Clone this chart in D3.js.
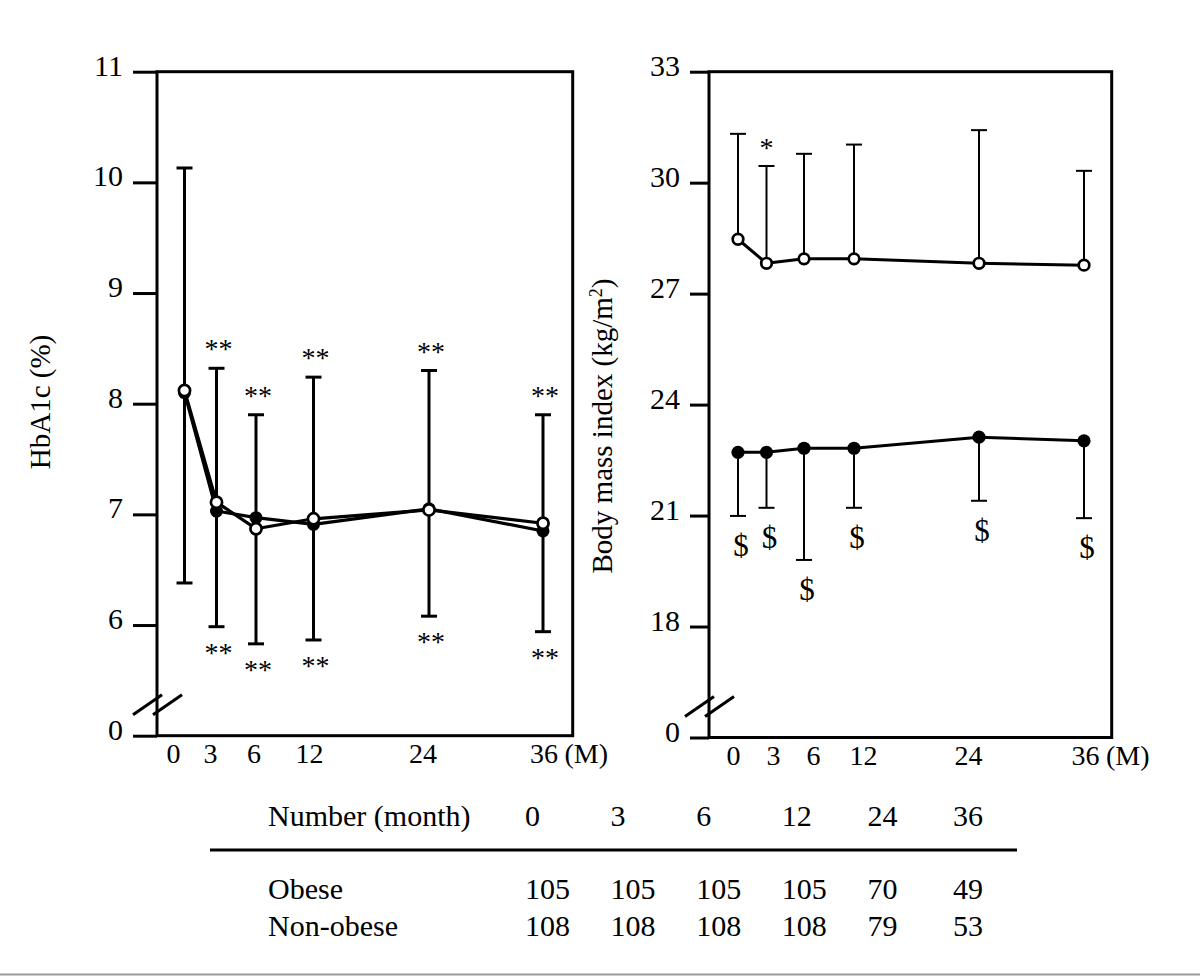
<!DOCTYPE html>
<html><head><meta charset="utf-8">
<script src="https://cdn.jsdelivr.net/npm/d3@7"></script>
<style>
body{margin:0;background:#fff}
svg{display:block}
text{font-family:"Liberation Serif","Times New Roman",serif;fill:#000}
</style>
</head><body>
<svg id="chart" width="1200" height="976"></svg>
<script>
// ---------- data ----------
const months = [0, 3, 6, 12, 24, 36];
const monthLabels = ["0", "3", "6", "12", "24", "36"];

// HbA1c (%)
const hbaObese    = [8.12, 7.11, 6.87, 6.96, 7.04, 6.92];
const hbaNonObese = [8.10, 7.03, 6.97, 6.91, 7.05, 6.85];
const hbaErrUpper = [10.13, 8.32, 7.90, 8.24, 8.30, 7.90];
const hbaErrLower = [6.38, 5.985, 5.83, 5.865, 6.08, 5.94];
const hbaUpperMarks = ["", "**", "**", "**", "**", "**"];
const hbaLowerMarks = ["", "**", "**", "**", "**", "**"];
const hbaTicks = [5, 6, 7, 8, 9, 10, 11];
const hbaTickLabels = ["0", "6", "7", "8", "9", "10", "11"];

// Body mass index (kg/m2)
const bmiObese      = [28.47, 27.82, 27.94, 27.94, 27.82, 27.77];
const bmiObeseUpper = [31.32, 30.45, 30.78, 31.03, 31.42, 30.32];
const bmiNonObese      = [22.71, 22.71, 22.82, 22.82, 23.12, 23.02];
const bmiNonObeseLower = [20.99, 21.21, 19.80, 21.21, 21.40, 20.93];
const bmiObeseMarks    = ["", "*", "", "", "", ""];
const bmiNonObeseMarks = ["$", "$", "$", "$", "$", "$"];
const bmiTicks = [15, 18, 21, 24, 27, 30, 33];
const bmiTickLabels = ["0", "18", "21", "24", "27", "30", "33"];

// table
const tableTitle = "Number (month)";
const tableGroups = ["Obese", "Non-obese"];
const nObese    = [105, 105, 105, 105, 70, 49];
const nNonObese = [108, 108, 108, 108, 79, 53];

// ---------- drawing ----------
const FONT = '"Liberation Serif","Times New Roman",serif';
const svg = d3.select("#chart");
svg.append("rect").attr("width",1200).attr("height",976).attr("fill","#fff");

function panel(cfg){
  const g = svg.append("g");
  const x = cfg.x, y = cfg.y;
  const [yb, yt] = y.range();
  const xl = cfg.axisX, xr = cfg.rightX;
  // frame
  g.append("rect").attr("x", xl).attr("y", yt).attr("width", xr - xl).attr("height", yb - yt)
    .attr("fill","none").attr("stroke","#000").attr("stroke-width",3);
  // y axis
  const ax = g.append("g").attr("transform",`translate(${xl},0)`)
    .call(d3.axisLeft(y).tickValues(cfg.ticks).tickSize(cfg.tickLen).tickPadding(10)
      .tickFormat((d,i)=>cfg.tickLabels[i]));
  ax.select(".domain").remove();
  ax.selectAll(".tick line").attr("stroke","#000").attr("stroke-width",3);
  ax.selectAll(".tick text").attr("font-size",30).attr("dy","0.12em")
    .attr("font-family",FONT).attr("fill","#000");
  // axis break
  const by = yb - 31;
  [[-24, 5],[-4, 25]].forEach(([a,b])=>{
    g.append("line").attr("x1", xl + a).attr("y1", by + 10).attr("x2", xl + b).attr("y2", by - 10)
      .attr("stroke","#000").attr("stroke-width",3);
  });
  // x labels (hand-placed month labels under the axis)
  const xa = g.append("g").attr("transform",`translate(0,${yb})`)
    .call(d3.axisBottom(cfg.xLab).tickValues(months).tickSize(0).tickPadding(0)
      .tickFormat((d,i)=>monthLabels[i]));
  xa.select(".domain").remove();
  xa.selectAll(".tick text").attr("font-size",28).attr("font-family",FONT).attr("fill","#000")
    .attr("dy",null).attr("y",27);
  // "(M)" unit after the last label
  g.append("text").attr("x", cfg.xLab(36) + 21).attr("y", yb + 27).attr("font-size",28).text("(M)");
  // y label
  g.append("text").attr("transform",`translate(${cfg.labelX},${cfg.labelY}) rotate(-90)`)
    .attr("text-anchor","middle").attr("font-size",29).html(cfg.label);
  return g;
}

// ----- left panel -----
const xL = d3.scaleLinear().domain(months).range([184.5, 216.5, 256, 313.5, 429, 543]);
const xLabL = d3.scaleLinear().domain(months).range([173, 210, 253.5, 309, 422.5, 543.5]);
const yL = d3.scaleLinear().domain([5, 11]).range([735.7, 71.7]);
const gL = panel({x:xL, xLab:xLabL, y:yL, axisX:157, rightX:572.7, tickLen:24, ticks:hbaTicks, tickLabels:hbaTickLabels,
  label:"HbA1c (%)", labelX:50, labelY:402});

// error bars (one per month)
months.forEach((m,i)=>{
  const cx = xL(m);
  gL.append("line").attr("x1",cx).attr("x2",cx).attr("y1",yL(hbaErrUpper[i])).attr("y2",yL(hbaErrLower[i]))
    .attr("stroke","#000").attr("stroke-width",3);
  [hbaErrUpper[i], hbaErrLower[i]].forEach(v=>{
    gL.append("line").attr("x1",cx-8).attr("x2",cx+8).attr("y1",yL(v)).attr("y2",yL(v))
      .attr("stroke","#000").attr("stroke-width",3);
  });
  if(hbaUpperMarks[i]) gL.append("text").attr("x",cx+2).attr("y",yL(hbaErrUpper[i]) - 24 + 14)
    .attr("text-anchor","middle").attr("font-size",28).text(hbaUpperMarks[i]);
  if(hbaLowerMarks[i]) gL.append("text").attr("x",cx+2).attr("y",yL(hbaErrLower[i]) + 21 + 14)
    .attr("text-anchor","middle").attr("font-size",28).text(hbaLowerMarks[i]);
});
const lineL = (arr)=> d3.line().x((d,i)=>xL(months[i])).y(d=>yL(d))(arr);
gL.append("path").attr("d", lineL(hbaNonObese)).attr("fill","none").attr("stroke","#000").attr("stroke-width",3.2).attr("stroke-linejoin","round");
gL.append("path").attr("d", lineL(hbaObese)).attr("fill","none").attr("stroke","#000").attr("stroke-width",3.2).attr("stroke-linejoin","round");
gL.selectAll("circle.f").data(hbaNonObese).join("circle").attr("class","f")
  .attr("cx",(d,i)=>xL(months[i])).attr("cy",d=>yL(d)).attr("r",6.5).attr("fill","#000");
gL.selectAll("circle.o").data(hbaObese).join("circle").attr("class","o")
  .attr("cx",(d,i)=>xL(months[i])).attr("cy",d=>yL(d)).attr("r",5.6).attr("fill","#fff").attr("stroke","#000").attr("stroke-width",2.7);

// ----- right panel -----
const xR = d3.scaleLinear().domain(months).range([738, 766.5, 804, 854, 979, 1084]);
const xLabR = d3.scaleLinear().domain(months).range([733, 773, 813, 863, 968, 1085]);
const yR = d3.scaleLinear().domain([15, 33]).range([737.5, 71.7]);
const gR = panel({x:xR, xLab:xLabR, y:yR, axisX:709, rightX:1111.7, tickLen:19, ticks:bmiTicks, tickLabels:bmiTickLabels,
  label:'Body mass index (kg/m<tspan dy="-10" font-size="18">2</tspan><tspan dy="10">)</tspan>', labelX:612, labelY:426});

months.forEach((m,i)=>{
  const cx = xR(m);
  // obese: upper error bar
  gR.append("line").attr("x1",cx).attr("x2",cx).attr("y1",yR(bmiObese[i])).attr("y2",yR(bmiObeseUpper[i]))
    .attr("stroke","#000").attr("stroke-width",2);
  gR.append("line").attr("x1",cx-8).attr("x2",cx+8).attr("y1",yR(bmiObeseUpper[i])).attr("y2",yR(bmiObeseUpper[i]))
    .attr("stroke","#000").attr("stroke-width",2);
  if(bmiObeseMarks[i]) gR.append("text").attr("x",cx).attr("y",yR(bmiObeseUpper[i]) - 23 + 14)
    .attr("text-anchor","middle").attr("font-size",28).text(bmiObeseMarks[i]);
  // non-obese: lower error bar
  gR.append("line").attr("x1",cx).attr("x2",cx).attr("y1",yR(bmiNonObese[i])).attr("y2",yR(bmiNonObeseLower[i]))
    .attr("stroke","#000").attr("stroke-width",2);
  gR.append("line").attr("x1",cx-8).attr("x2",cx+8).attr("y1",yR(bmiNonObeseLower[i])).attr("y2",yR(bmiNonObeseLower[i]))
    .attr("stroke","#000").attr("stroke-width",2);
  if(bmiNonObeseMarks[i]) gR.append("text").attr("x",cx+3).attr("y",yR(bmiNonObeseLower[i]) + 30 + 10)
    .attr("text-anchor","middle").attr("font-size",31).text(bmiNonObeseMarks[i]);
});
const lineR = (arr)=> d3.line().x((d,i)=>xR(months[i])).y(d=>yR(d))(arr);
gR.append("path").attr("d", lineR(bmiObese)).attr("fill","none").attr("stroke","#000").attr("stroke-width",3).attr("stroke-linejoin","round");
gR.append("path").attr("d", lineR(bmiNonObese)).attr("fill","none").attr("stroke","#000").attr("stroke-width",3).attr("stroke-linejoin","round");
gR.selectAll("circle.f").data(bmiNonObese).join("circle").attr("class","f")
  .attr("cx",(d,i)=>xR(months[i])).attr("cy",d=>yR(d)).attr("r",6.6).attr("fill","#000");
gR.selectAll("circle.o").data(bmiObese).join("circle").attr("class","o")
  .attr("cx",(d,i)=>xR(months[i])).attr("cy",d=>yR(d)).attr("r",5.3).attr("fill","#fff").attr("stroke","#000").attr("stroke-width",2.7);

// ----- table -----
const tx = d3.scalePoint().domain(months).range([525, 953]);
const gT = svg.append("g");
gT.append("text").attr("x",268).attr("y",826).attr("font-size",30).text(tableTitle);
months.forEach((m,i)=>{
  gT.append("text").attr("x",tx(m)).attr("y",826).attr("font-size",30).text(monthLabels[i]);
});
gT.append("line").attr("x1",210).attr("x2",1017).attr("y1",850).attr("y2",850).attr("stroke","#000").attr("stroke-width",3);
[nObese, nNonObese].forEach((row, r)=>{
  const yy = 899 + r*37;
  gT.append("text").attr("x",268).attr("y",yy).attr("font-size",30).text(tableGroups[r]);
  row.forEach((v,i)=>{
    gT.append("text").attr("x",tx(months[i])).attr("y",yy).attr("font-size",30).text(v);
  });
});
// bottom rule of the figure
svg.append("rect").attr("x",0).attr("y",973.5).attr("width",1200).attr("height",2).attr("fill","#9a9a9a");
</script>
</body></html>
